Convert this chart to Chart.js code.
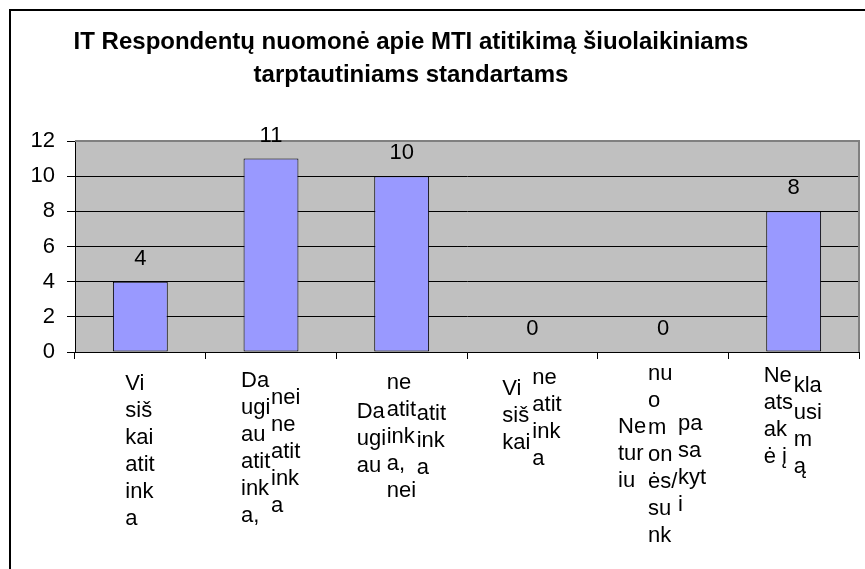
<!DOCTYPE html>
<html>
<head>
<meta charset="utf-8">
<script src="https://cdn.jsdelivr.net/npm/chart.js@4"></script>
<style>
html, body { margin: 0; padding: 0; background: #fff; overflow: hidden; }
#frame { position: absolute; left: 9px; top: 9px; width: 900px; height: 600px; border-left: 2px solid #000; border-top: 2px solid #000; }
#myChart { position: absolute; left: 0; top: 0; }
</style>
</head>
<body>
<div id="frame"></div>
<canvas id="myChart" width="865" height="569"></canvas>
<script>
const titleLines = ['IT Respondentų nuomonė apie MTI atitikimą šiuolaikiniams', 'tarptautiniams standartams'];
const categories = [
    'Visiškai atitinka',
    'Daugiau atitinka, nei neatitinka',
    'Daugiau neatitinka, nei atitinka',
    'Visiškai neatitinka',
    'Neturiu nuomonės/sunku pasakyti',
    'Neatsakė į klausimą'
];
const answers = [4, 11, 10, 0, 0, 8];
const yMax = 12;
const yStep = 2;

// the category names broken into narrow columns, the way the original shows them
const labelParts = [
    [['Vi', 'siš', 'kai', 'atit', 'ink', 'a']],
    [['Da', 'ugi', 'au', 'atit', 'ink', 'a,'], ['nei', 'ne', 'atit', 'ink', 'a']],
    [['Da', 'ugi', 'au'], ['ne', 'atit', 'ink', 'a,', 'nei'], ['atit', 'ink', 'a']],
    [['Vi', 'siš', 'kai'], ['ne', 'atit', 'ink', 'a']],
    [['Ne', 'tur', 'iu'], ['nu', 'o', 'm', 'on', 'ės/', 'su', 'nk'], ['pa', 'sa', 'kyt', 'i']],
    [['Ne', 'ats', 'ak', 'ė į'], ['kla', 'usi', 'm', 'ą']]
];
// first baseline of each column, below the x axis (px)
const labelDy = [[38], [35, 52], [66, 37, 68], [43, 32], [81, 28, 78], [30, 40]];

const FONT = '"Liberation Sans", Arial, sans-serif';

const chartDeco = {
    id: 'chartDeco',
    beforeDraw(chart) {
        const { ctx, chartArea: a } = chart;
        ctx.save();
        ctx.fillStyle = '#c0c0c0';
        ctx.fillRect(a.left, a.top, a.right - a.left, a.bottom - a.top);
        ctx.restore();
    },
    afterDatasetsDraw(chart) {
        const { ctx, chartArea: a } = chart;
        ctx.save();
        // plot area frame, top and right side
        ctx.strokeStyle = '#808080';
        ctx.lineWidth = 2;
        ctx.beginPath();
        ctx.moveTo(a.left, a.top);
        ctx.lineTo(a.right, a.top);
        ctx.lineTo(a.right, a.bottom);
        ctx.stroke();

        // values above the bars
        ctx.fillStyle = '#000';
        ctx.font = '22px ' + FONT;
        ctx.textAlign = 'center';
        ctx.textBaseline = 'alphabetic';
        chart.getDatasetMeta(0).data.forEach((bar, i) => {
            ctx.fillText(String(answers[i]), bar.x, bar.y - 17);
        });

        // title
        ctx.font = 'bold 24px ' + FONT;
        titleLines.forEach((t, i) => ctx.fillText(t, 411, 49 + i * 33));

        // category labels
        const xs = chart.scales.x;
        ctx.font = '22px ' + FONT;
        ctx.textAlign = 'left';
        labelParts.forEach((cols, i) => {
            const cx = xs.getPixelForValue(i);
            cols.forEach((lines, k) => {
                const left = cx - 15 * cols.length + 30 * k;
                lines.forEach((s, j) => ctx.fillText(s, left, a.bottom + labelDy[i][k] + j * 27));
            });
        });
        ctx.restore();
    }
};

const ctx = document.getElementById('myChart').getContext('2d');
new Chart(ctx, {
    type: 'bar',
    data: {
        labels: categories,
        datasets: [{
            label: 'Respondentai',
            data: answers,
            backgroundColor: '#9999ff',
            borderColor: '#000',
            borderWidth: 1,
            borderSkipped: false,
            barPercentage: 0.42,
            categoryPercentage: 1
        }]
    },
    options: {
        responsive: false,
        animation: false,
        devicePixelRatio: 1,
        layout: { padding: { top: 141, right: 6, left: 0, bottom: 0 } },
        plugins: {
            legend: { display: false },
            title: { display: false },
            tooltip: { enabled: false }
        },
        scales: {
            x: {
                afterFit: s => { s.height = 569 - 352; },
                ticks: { display: false },
                grid: { display: true, drawOnChartArea: false, drawTicks: true, tickLength: 7, color: '#000', offset: true },
                border: { display: true, color: '#000', width: 1 }
            },
            y: {
                min: 0,
                max: yMax,
                afterFit: s => { s.width = 75; },
                ticks: { stepSize: yStep, color: '#000', padding: 12, font: { family: FONT, size: 22 } },
                grid: { color: '#000', lineWidth: 1, drawTicks: true, tickLength: 8 },
                border: { display: true, color: '#000', width: 1 }
            }
        }
    },
    plugins: [chartDeco]
});
</script>
</body>
</html>
